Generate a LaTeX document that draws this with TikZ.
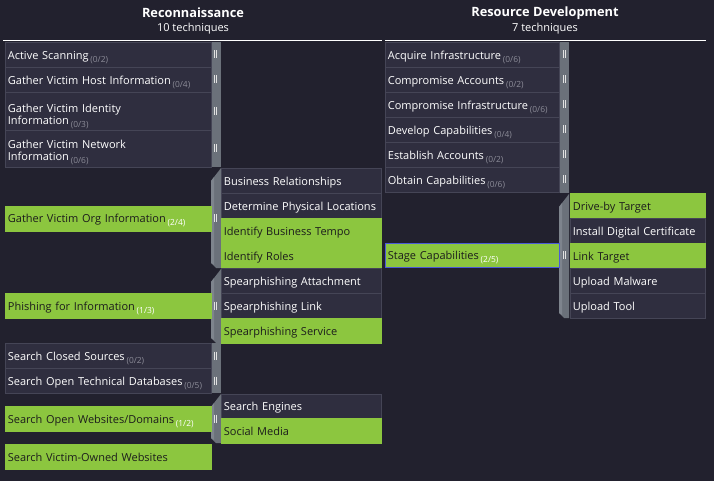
\documentclass[tikz,border=0pt]{standalone}
\usepackage{fontspec}
\setmainfont{Open Sans}
\definecolor{bg}{HTML}{22212E}
\definecolor{techfill}{HTML}{2F2E3F}
\definecolor{techline}{HTML}{454556}
\definecolor{selgreen}{HTML}{8CC63F}
\definecolor{cntgrey}{HTML}{8C8C98}
\definecolor{sbface}{HTML}{6B717A}
\definecolor{sblight}{HTML}{7E848D}
\definecolor{gripc}{HTML}{E2E2E2}
\definecolor{focusblue}{HTML}{4B5BD6}
\definecolor{darktext}{HTML}{1C1C1C}
\newcommand\cnt[1]{\,\smash{\raisebox{-3pt}{\fontsize{8.4}{8}\selectfont\color{cntgrey}#1}}}
\newcommand\cntw[1]{\,\smash{\raisebox{-3pt}{\fontsize{8.4}{8}\selectfont\color{white}#1}}}
% plain side bar of a block of techniques
\newcommand\plainbar[3]{\fill[sbface] (#1,#2) rectangle (#1+10,#3);}
% side bar with bevelled top, next to an opened list of sub-techniques
\newcommand\bevelbar[3]{%
  \fill[sbface] (#1,#2+13) -- (#1+10,#2) -- (#1+10,#3) -- (#1+5,#3) -- (#1,#3-5) -- cycle;
  \fill[sblight] (#1,#2+13) -- (#1+3,#2+9) -- (#1+3,#3-3) -- (#1,#3-5) -- cycle;}
% the double-bar handle drawn on a side bar
\newcommand\grip[2]{\draw[gripc, line width=0.9pt] (#1-1,#2-4) -- (#1-1,#2+4) (#1+1,#2-4) -- (#1+1,#2+4);}
\begin{document}
\begin{tikzpicture}[x=1pt,y=-1pt,
  box/.style={anchor=north west, inner xsep=2.5pt, inner ysep=0pt, align=left,
    font=\fontsize{11}{11.8}\selectfont, line width=0.8pt},
  one/.style={text height=10.5pt, text depth=1.5pt},
  tech/.style={box, fill=techfill, draw=techline, text=white},
  sel/.style={box, fill=selgreen, draw=selgreen, text=darktext},
  tactic/.style={font=\bfseries\fontsize{12.8}{14}\selectfont, text=white, inner sep=0pt},
  tcount/.style={font=\fontsize{11}{12}\selectfont, text=white, inner sep=0pt},
  rule/.style={white, line width=1.3pt}]
\useasboundingbox (0,0) rectangle (714,481);
\fill[bg] (0,0) rectangle (714,481);

% ---------- headers ----------
\node[tactic] (recon) at (193,13) {Reconnaissance};
\node[tcount] (reconn) at (193,29) {10 techniques};
\node[tactic] (resdev) at (545,13) {Resource Development};
\node[tcount] (resdevn) at (545,29) {7 techniques};
\coordinate (l1) at (3,40.5); \coordinate (l2) at (382,40.5);
\coordinate (r1) at (385,40.5); \coordinate (r2) at (706,40.5);
\draw[rule] (l1) -- (l2);
\draw[rule] (r1) -- (r2);

% ---------- Reconnaissance ----------
\plainbar{211}{42}{167}
\node[tech, one, minimum height=25pt, text width=201pt] (as) at (5,42) {Active Scanning\cnt{(0/2)}};
\node[tech, one, minimum height=25pt, text width=201pt] (gvhi) at (5,67) {Gather Victim Host Information\cnt{(0/4)}};
\draw[techline, fill=techfill, line width=0.8pt] (5,92) rectangle (211,130);
\node[box, text=white, text width=201pt] (gvii) at (5,103.5) {Gather Victim Identity\\Information\cnt{(0/3)}};
\draw[techline, fill=techfill, line width=0.8pt] (5,130) rectangle (211,167);
\node[box, text=white, text width=201pt] (gvni) at (5,140) {Gather Victim Network\\Information\cnt{(0/6)}};
\grip{215.5}{54.5}\grip{215.5}{79.5}\grip{215.5}{111}\grip{215.5}{148.5}

\bevelbar{211}{168}{268}
\node[sel, one, minimum height=25pt, text width=201pt] (gvoi) at (5,205.5) {Gather Victim Org Information\cntw{(2/4)}};
\grip{215.5}{218}
\node[tech, one, minimum height=25pt, text width=155pt] (br) at (221,168) {Business Relationships};
\node[tech, one, minimum height=25pt, text width=155pt] (dpl) at (221,193) {\mbox{Determine Physical Locations}};
\node[sel, one, minimum height=25pt, text width=155pt] (ibt) at (221,218) {Identify Business Tempo};
\node[sel, one, minimum height=25pt, text width=155pt] (ir) at (221,243) {Identify Roles};

\bevelbar{211}{269}{343}
\node[sel, one, minimum height=25pt, text width=201pt] (pfi) at (5,293) {Phishing for Information\cntw{(1/3)}};
\grip{215.5}{305.5}
\node[tech, one, minimum height=25pt, text width=155pt] (spa) at (221,268) {Spearphishing Attachment};
\node[tech, one, minimum height=25pt, text width=155pt] (spl) at (221,293) {Spearphishing Link};
\node[sel, one, minimum height=25pt, text width=155pt] (sps) at (221,318) {Spearphishing Service};

\plainbar{211}{343}{393}
\node[tech, one, minimum height=25pt, text width=201pt] (scs) at (5,343) {Search Closed Sources\cnt{(0/2)}};
\node[tech, one, minimum height=25pt, text width=201pt] (sotd) at (5,368) {Search Open Technical Databases\cnt{(0/5)}};
\grip{215.5}{355.5}\grip{215.5}{380.5}

\bevelbar{211}{394}{443}
\node[sel, one, minimum height=25pt, text width=201pt] (sowd) at (5,406) {Search Open Websites/Domains\cntw{(1/2)}};
\grip{215.5}{418.5}
\node[tech, one, minimum height=24pt, text width=155pt] (se) at (221,394) {Search Engines};
\node[sel, one, minimum height=25pt, text width=155pt] (sm) at (221,418) {Social Media};

\node[sel, one, minimum height=25pt, text width=201pt] (svow) at (5,444) {Search Victim-Owned Websites};

% ---------- Resource Development ----------
\plainbar{559}{42}{193}
\node[tech, one, minimum height=25pt, text width=169pt] (ai) at (385,42) {Acquire Infrastructure\cnt{(0/6)}};
\node[tech, one, minimum height=25pt, text width=169pt] (ca) at (385,67) {Compromise Accounts\cnt{(0/2)}};
\node[tech, one, minimum height=25pt, text width=169pt] (ci) at (385,92) {Compromise Infrastructure\cnt{(0/6)}};
\node[tech, one, minimum height=25pt, text width=169pt] (dc) at (385,117) {Develop Capabilities\cnt{(0/4)}};
\node[tech, one, minimum height=25pt, text width=169pt] (ea) at (385,142) {Establish Accounts\cnt{(0/2)}};
\node[tech, one, minimum height=25pt, text width=169pt] (oc) at (385,167) {Obtain Capabilities\cnt{(0/6)}};
\grip{564.5}{54.5}\grip{564.5}{79.5}\grip{564.5}{104.5}\grip{564.5}{129.5}\grip{564.5}{154.5}\grip{564.5}{179.5}

\bevelbar{559}{194}{318}
\node[sel, one, draw=focusblue, minimum height=24pt, text width=169pt] (stc) at (385,243) {Stage Capabilities\cntw{(2/5)}};
\grip{564.5}{255}
\node[sel, one, minimum height=25pt, text width=130pt] (dbt) at (570,193) {Drive-by Target};
\node[tech, one, minimum height=25pt, text width=130pt] (idc) at (570,218) {Install Digital Certificate};
\node[sel, one, minimum height=25pt, text width=130pt] (lt) at (570,243) {Link Target};
\node[tech, one, minimum height=25pt, text width=130pt] (um) at (570,268) {Upload Malware};
\node[tech, one, minimum height=25pt, text width=130pt] (ut) at (570,293) {Upload Tool};
\end{tikzpicture}
\end{document}
